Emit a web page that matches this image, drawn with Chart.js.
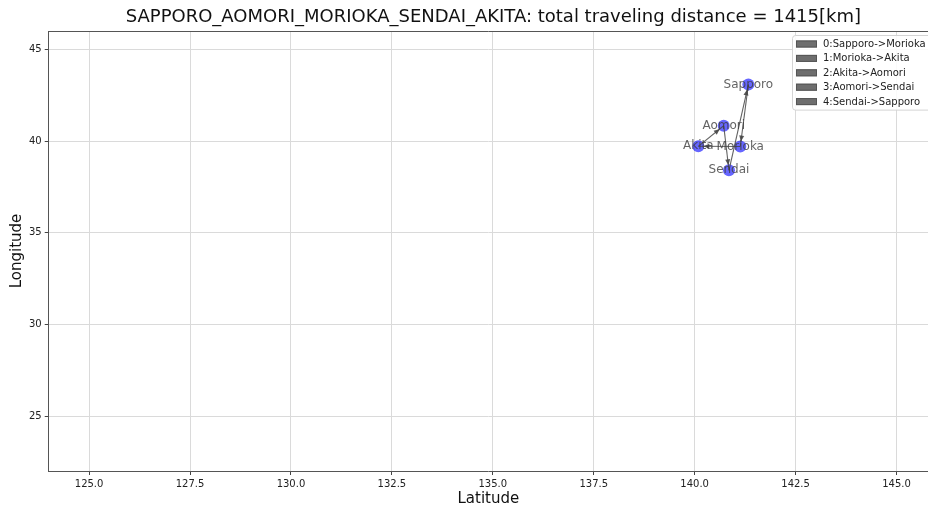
<!DOCTYPE html>
<html>
<head>
<meta charset="utf-8">
<script src="https://cdn.jsdelivr.net/npm/chart.js@4"></script>
<style>
  html, body { margin: 0; padding: 0; background: #fff; overflow: hidden; }
  canvas { display: block; }
</style>
</head>
<body>
<canvas id="myChart" width="928" height="505"></canvas>
<script>
// city positions (x = "Latitude" axis, y = "Longitude" axis as labelled)
var cities = ["Sapporo", "Aomori", "Akita", "Morioka", "Sendai"];
var cityX = [141.33, 140.72, 140.09, 141.13, 140.85];
var cityY = [43.08, 40.83, 39.71, 39.70, 38.40];

// visiting order
var route = ["Sapporo", "Morioka", "Akita", "Aomori", "Sendai", "Sapporo"];

var xTicks = [125.0, 127.5, 130.0, 132.5, 135.0, 137.5, 140.0, 142.5, 145.0];
var yTicks = [25, 30, 35, 40, 45];

var titleText = "SAPPORO_AOMORI_MORIOKA_SENDAI_AKITA: total traveling distance = 1415[km]";
var FONT = "'DejaVu Sans', sans-serif";

function pt(name) {
  var i = cities.indexOf(name);
  return { x: cityX[i], y: cityY[i] };
}

var datasets = [];
for (var i = 0; i < route.length - 1; i++) {
  datasets.push({
    label: i + ":" + route[i] + "->" + route[i + 1],
    data: [pt(route[i]), pt(route[i + 1])],
    showLine: true,
    borderColor: "rgba(70,70,70,0.85)",
    borderWidth: 1.1,
    pointRadius: 0,
    isEdge: true,
  });
}
datasets.push({
  label: "cities",
  data: cities.map(function (c) { return pt(c); }),
  pointRadius: 6,
  pointHoverRadius: 6,
  pointBackgroundColor: "rgba(0,0,255,0.6)",
  pointBorderWidth: 0,
  showLine: false,
});

var extras = {
  id: "extras",
  afterLayout: function (chart) {
    // the axes continue past the right edge, so centre the title a bit right
    if (chart.titleBlock) {
      chart.titleBlock.left += 5;
      chart.titleBlock.right += 5;
    }
  },
  afterDatasetsDraw: function (chart) {
    var ctx = chart.ctx, xs = chart.scales.x, ys = chart.scales.y;
    var a = chart.chartArea;
    ctx.save();
    // top spine
    ctx.strokeStyle = "#555";
    ctx.lineWidth = 1;
    ctx.beginPath();
    ctx.moveTo(a.left, a.top + 0.5);
    ctx.lineTo(a.right, a.top + 0.5);
    ctx.stroke();

    // arrow heads
    chart.data.datasets.forEach(function (ds) {
      if (!ds.isEdge) return;
      var p0 = ds.data[0], p1 = ds.data[1];
      var x0 = xs.getPixelForValue(p0.x), y0 = ys.getPixelForValue(p0.y);
      var x1 = xs.getPixelForValue(p1.x), y1 = ys.getPixelForValue(p1.y);
      var ang = Math.atan2(y1 - y0, x1 - x0);
      var tx = x1 - Math.cos(ang) * 5, ty = y1 - Math.sin(ang) * 5;
      var len = 6, half = 2.5;
      ctx.fillStyle = "rgba(70,70,70,0.9)";
      ctx.beginPath();
      ctx.moveTo(tx, ty);
      ctx.lineTo(tx - Math.cos(ang) * len - Math.sin(ang) * half, ty - Math.sin(ang) * len + Math.cos(ang) * half);
      ctx.lineTo(tx - Math.cos(ang) * len + Math.sin(ang) * half, ty - Math.sin(ang) * len - Math.cos(ang) * half);
      ctx.closePath();
      ctx.fill();
    });

    // node labels
    ctx.font = "12px " + FONT;
    ctx.fillStyle = "rgba(60,60,60,0.8)";
    ctx.textAlign = "center";
    ctx.textBaseline = "middle";
    cities.forEach(function (c, i) {
      ctx.fillText(c, xs.getPixelForValue(cityX[i]), ys.getPixelForValue(cityY[i]));
    });

    // legend (upper right, partly cut off like the reference)
    var edges = chart.data.datasets.filter(function (d) { return d.isEdge; });
    ctx.font = "10px " + FONT;
    var tw = 0;
    edges.forEach(function (d) { tw = Math.max(tw, ctx.measureText(d.label).width); });
    var left = 792, top = a.top + 4;
    var right = left + 4 + 21 + 6 + tw + 7;
    var rowH = 14.4;
    var bottom = top + 9 + rowH * (edges.length - 1) + 8;
    ctx.fillStyle = "rgba(255,255,255,0.85)";
    ctx.strokeStyle = "#d4d4d4";
    ctx.beginPath();
    ctx.roundRect(left + 0.5, top + 0.5, right - left, bottom - top, 3);
    ctx.fill();
    ctx.stroke();
    ctx.textAlign = "left";
    edges.forEach(function (d, i) {
      var cy = top + 9 + i * rowH;
      ctx.fillStyle = "#6e6e6e";
      ctx.fillRect(left + 4, cy - 3.5, 21, 7);
      ctx.strokeStyle = "#555";
      ctx.strokeRect(left + 4.5, cy - 3, 20, 6);
      ctx.fillStyle = "#222";
      ctx.fillText(d.label, left + 31, cy + 0.5);
    });
    ctx.restore();
  },
};

var config = {
  type: "scatter",
  data: { datasets: datasets },
  options: {
    responsive: false,
    animation: false,
    events: [],
    layout: { autoPadding: false, padding: { left: 8, right: 0, top: 0, bottom: 0 } },
    scales: {
      x: {
        type: "linear",
        min: 124,
        max: 145.78,
        afterBuildTicks: function (s) { s.ticks = xTicks.map(function (v) { return { value: v }; }); },
        afterFit: function (s) { s.paddingRight = 0; },
        ticks: {
          color: "#222",
          font: { family: FONT, size: 10 },
          padding: 3,
          maxRotation: 0,
          callback: function (v) { return Number(v).toFixed(1); },
        },
        grid: { color: "#dadada", lineWidth: 1, tickLength: 4, tickColor: "#444" },
        border: { color: "#555", width: 1 },
        title: {
          display: true,
          text: "Latitude",
          color: "#111",
          font: { family: FONT, size: 15, lineHeight: 0.8 },
          padding: { top: 0, bottom: 0 },
        },
      },
      y: {
        type: "linear",
        min: 22,
        max: 46,
        afterBuildTicks: function (s) { s.ticks = yTicks.map(function (v) { return { value: v }; }); },
        ticks: {
          color: "#222",
          font: { family: FONT, size: 10 },
          padding: 3,
        },
        grid: { color: "#dadada", lineWidth: 1, tickLength: 4, tickColor: "#444" },
        border: { color: "#555", width: 1 },
        title: {
          display: true,
          text: "Longitude",
          color: "#111",
          font: { family: FONT, size: 15, lineHeight: 1.2 },
          padding: { top: 0, bottom: 0 },
        },
      },
    },
    plugins: {
      legend: { display: false },
      tooltip: { enabled: false },
      title: {
        display: true,
        text: titleText,
        fullSize: false,
        color: "#111",
        font: { family: FONT, size: 18, weight: "normal", lineHeight: 1.2 },
        padding: { top: 7, bottom: 2.4 },
      },
    },
  },
  plugins: [extras],
};

var myChart = document.getElementById("myChart").getContext("2d");
var chart1 = new Chart(myChart, config);
</script>
</body>
</html>
